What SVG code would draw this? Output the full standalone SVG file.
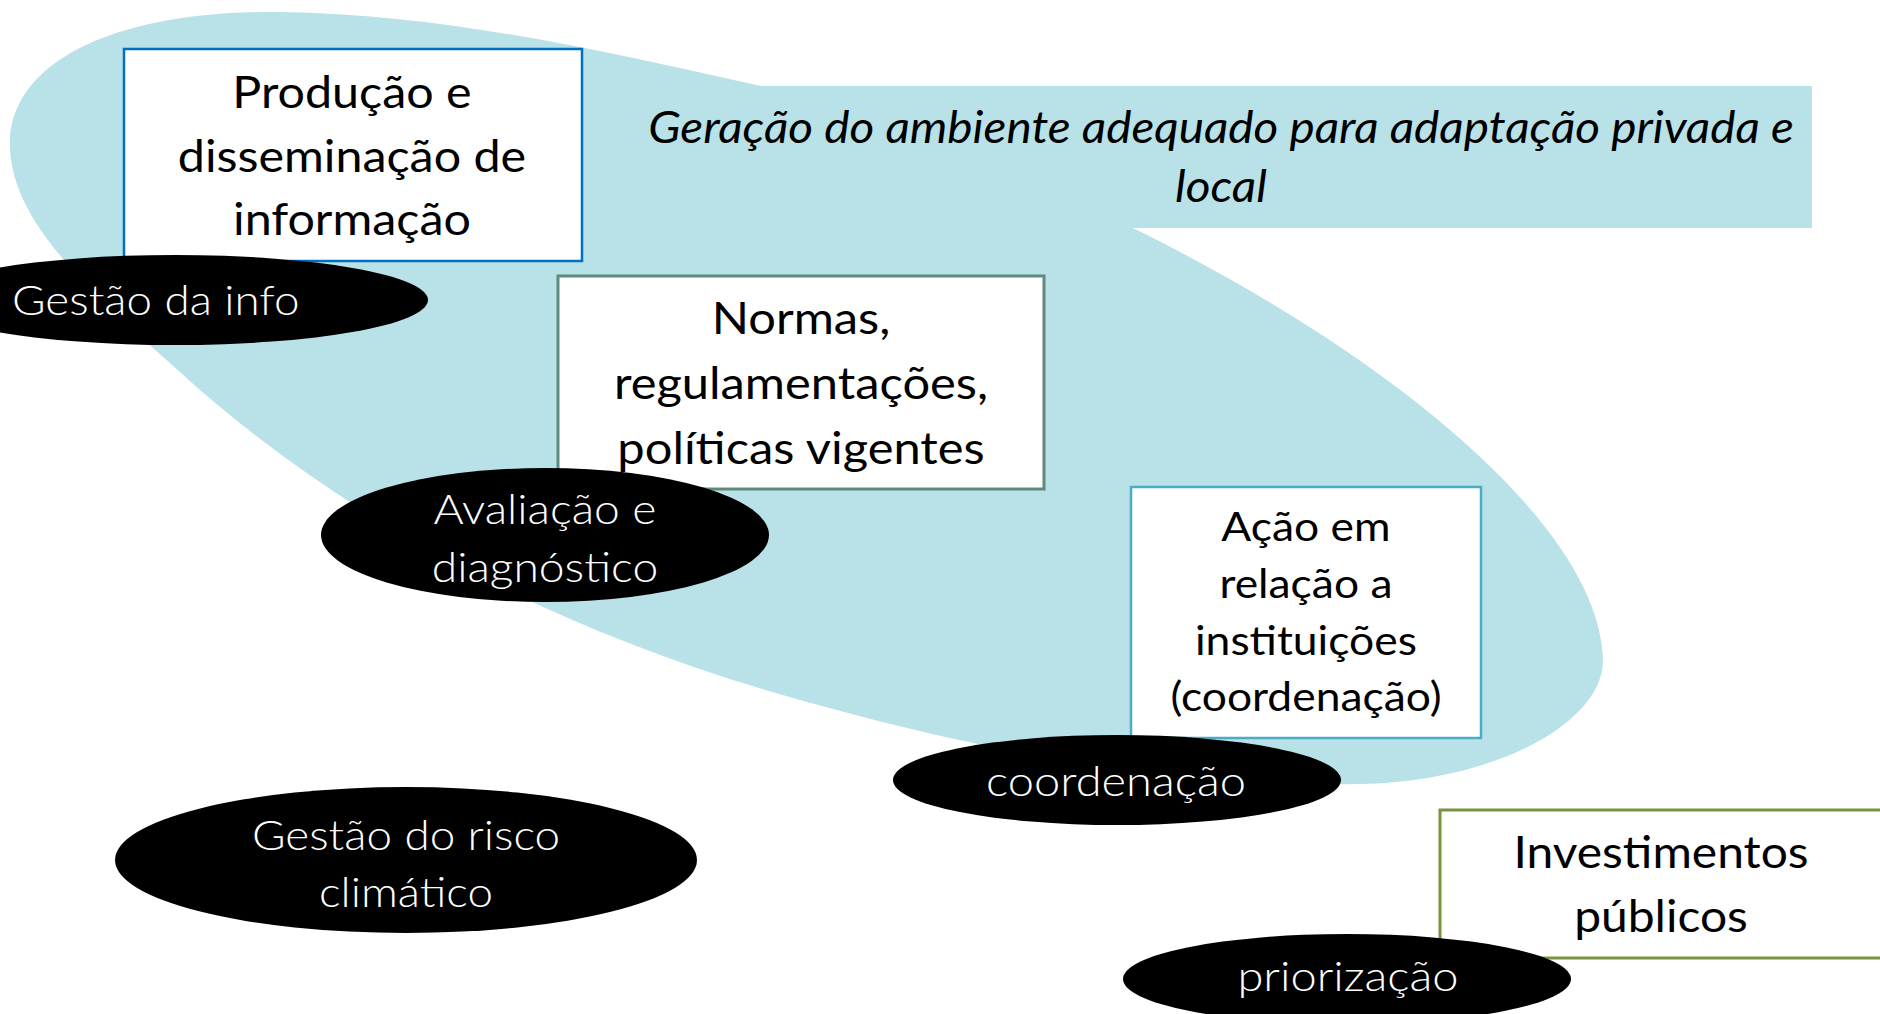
<svg xmlns="http://www.w3.org/2000/svg" width="1880" height="1014" viewBox="0 0 1880 1014">
<style>
.box{fill:#fff;}
.bt{font-family:Lato,"Noto Sans","Liberation Sans",sans-serif;font-size:44px;fill:#000;text-anchor:middle;}
.et{font-family:Lato,"Noto Sans","Liberation Sans",sans-serif;font-size:42px;fill:#fff;text-anchor:middle;font-weight:300;}
.ell{fill:#000;}
</style>
<rect width="1880" height="1014" fill="#fff"/>
<g id="blob">
<path d="M 10,150 C 5,60 120,10 280,12 C 450,14 620,55 761,86 L 1812,86 L 1812,228 L 1133,228 C 1400,360 1600,530 1603,660 C 1603,725 1490,782 1360,784 C 1150,788 950,742 800,700 C 550,630 350,520 200,390 C 100,300 15,230 10,150 Z" fill="#B8E1E8"/>
<g transform="matrix(1.085,0,0,1,-103.8,0)">
<text x="1221" y="143" class="bt" font-style="italic">Geração do ambiente adequado para adaptação privada e</text>
<text x="1221" y="202" class="bt" font-style="italic">local</text>
</g>
</g>
<g id="n-producao">
<rect x="124" y="49" width="458" height="212" class="box" stroke="#0070C0" stroke-width="2.5"/>
<g transform="matrix(1.1,0,0,1,-35.2,0)">
<text x="352" y="108" class="bt">Produção e</text>
<text x="352" y="172" class="bt">disseminação de</text>
<text x="352" y="235" class="bt">informação</text>
</g>
</g>
<g id="n-gestao-info">
<ellipse cx="175" cy="300" rx="253" ry="45" class="ell"/>
<g transform="matrix(1.09,0,0,1,-1.08,0)">
<text x="12" y="315" class="et" style="text-anchor:start">Gestão da info</text>
</g>
</g>
<g id="n-normas">
<rect x="558" y="276" width="486" height="213" class="box" stroke="#5E8A7C" stroke-width="3"/>
<g transform="matrix(1.11,0,0,1,-88.1,0)">
<text x="801" y="334" class="bt">Normas,</text>
<text x="801" y="399" class="bt">regulamentações,</text>
<text x="801" y="464" class="bt">políticas vigentes</text>
</g>
</g>
<g id="n-avaliacao">
<ellipse cx="545" cy="535" rx="224" ry="67" class="ell"/>
<g transform="matrix(1.1,0,0,1,-54.5,0)">
<text x="545" y="524" class="et">Avaliação e</text>
<text x="545" y="582" class="et">diagnóstico</text>
</g>
</g>
<g id="n-acao">
<rect x="1131" y="487" width="350" height="251" class="box" stroke="#4BACC6" stroke-width="2.5"/>
<g transform="matrix(1.11,0,0,1,-143.7,0)">
<text x="1306" y="541" class="bt" style="font-size:40px">Ação em</text>
<text x="1306" y="598" class="bt" style="font-size:40px">relação a</text>
<text x="1306" y="655" class="bt" style="font-size:40px">instituições</text>
<text x="1306" y="711" class="bt" style="font-size:40px">(coordenação)</text>
</g>
</g>
<g id="n-coordenacao">
<ellipse cx="1117" cy="780" rx="224" ry="45" class="ell"/>
<g transform="matrix(1.12,0,0,1,-133.9,0)">
<text x="1116" y="796" class="et">coordenação</text>
</g>
</g>
<g id="n-gestao-risco">
<ellipse cx="406" cy="860" rx="291" ry="73" class="ell"/>
<g transform="matrix(1.09,0,0,1,-36.5,0)">
<text x="406" y="850" class="et">Gestão do risco</text>
<text x="406" y="907" class="et">climático</text>
</g>
</g>
<g id="n-investimentos">
<rect x="1440" y="810" width="445" height="148" class="box" stroke="#77933C" stroke-width="3"/>
<g transform="matrix(1.09,0,0,1,-149.5,0)">
<text x="1661" y="868" class="bt">Investimentos</text>
<text x="1661" y="932" class="bt">públicos</text>
</g>
</g>
<g id="n-priorizacao">
<ellipse cx="1347" cy="979" rx="224" ry="45" class="ell"/>
<g transform="matrix(1.12,0,0,1,-161.8,0)">
<text x="1348" y="991" class="et">priorização</text>
</g>
</g>
<g id="connectors"></g>
</svg>
